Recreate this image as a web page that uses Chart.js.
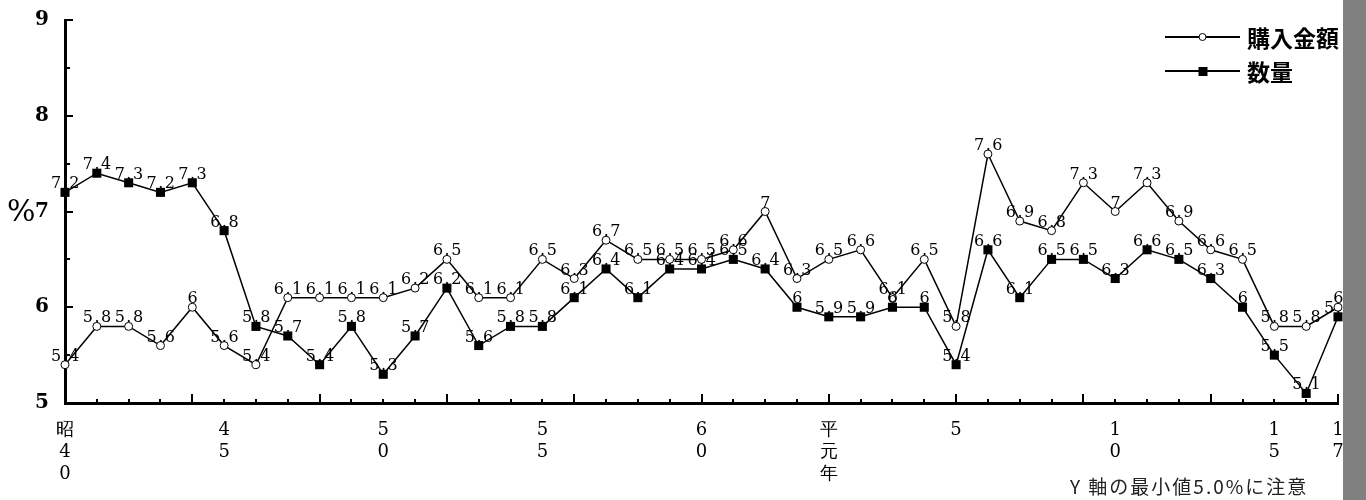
<!DOCTYPE html>
<html lang="ja">
<head>
<meta charset="utf-8">
<script src="https://cdn.jsdelivr.net/npm/chart.js@4.4.0/dist/chart.umd.min.js"></script>
<style>
  body { margin: 0; background: #fff; }
  #wrap { position: relative; width: 1366px; height: 500px; overflow: hidden; }
  #side { position: absolute; left: 1343px; top: 0; width: 23px; height: 500px; background: #808080; }
  #note { position: absolute; left: 1070px; top: 472px; font: 19px "Noto Sans CJK JP", sans-serif; letter-spacing: 2px; color: #222; white-space: nowrap; }
</style>
</head>
<body>
<div id="wrap">
  <canvas id="chart" width="1366" height="500"></canvas>
  <div id="side"></div>
  <div id="note">Y 軸の最小値5.0%に注意</div>
</div>
<script>
// 年次（昭和40年〜平成17年）
const categories = [
  '昭40', '昭41', '昭42', '昭43', '昭44', '昭45', '昭46', '昭47', '昭48', '昭49',
  '昭50', '昭51', '昭52', '昭53', '昭54', '昭55', '昭56', '昭57', '昭58', '昭59',
  '昭60', '昭61', '昭62', '昭63', '平元', '平2', '平3', '平4', '平5', '平6',
  '平7', '平8', '平9', '平10', '平11', '平12', '平13', '平14', '平15', '平16', '平17'
];

// 軸に表示する目盛ラベル（縦書き）
const tickLabels = {
  '昭40': ['昭', '4', '0'],
  '昭45': ['4', '5'],
  '昭50': ['5', '0'],
  '昭55': ['5', '5'],
  '昭60': ['6', '0'],
  '平元': ['平', '元', '年'],
  '平5': ['5'],
  '平10': ['1', '0'],
  '平15': ['1', '5'],
  '平17': ['1', '7']
};

const kingaku = [
  5.4, 5.8, 5.8, 5.6, 6.0, 5.6, 5.4, 6.1, 6.1, 6.1,
  6.1, 6.2, 6.5, 6.1, 6.1, 6.5, 6.3, 6.7, 6.5, 6.5,
  6.5, 6.6, 7.0, 6.3, 6.5, 6.6, 6.1, 6.5, 5.8, 7.6,
  6.9, 6.8, 7.3, 7.0, 7.3, 6.9, 6.6, 6.5, 5.8, 5.8, 6.0
];

const suryo = [
  7.2, 7.4, 7.3, 7.2, 7.3, 6.8, 5.8, 5.7, 5.4, 5.8,
  5.3, 5.7, 6.2, 5.6, 5.8, 5.8, 6.1, 6.4, 6.1, 6.4,
  6.4, 6.5, 6.4, 6.0, 5.9, 5.9, 6.0, 6.0, 5.4, 6.6,
  6.1, 6.5, 6.5, 6.3, 6.6, 6.5, 6.3, 6.0, 5.5, 5.1, 5.9
];

const seriesNames = ['購入金額', '数量'];
const yMin = 5;
const yMax = 9;

function fmt(v) {
  return Number.isInteger(v) ? String(v) : v.toFixed(1);
}

// 目盛・データラベル・凡例を描く
const decorPlugin = {
  id: 'decor',
  afterDatasetsDraw(chart) {
    const ctx = chart.ctx;
    const xs = chart.scales.x;
    const ys = chart.scales.y;
    const area = chart.chartArea;
    ctx.save();
    ctx.strokeStyle = '#000';
    ctx.lineWidth = 2;

    // 横軸の目盛（内向き）
    categories.forEach((c, i) => {
      const px = Math.round(xs.getPixelForValue(i));
      const len = i % 4 === 0 ? 9 : 4;
      ctx.beginPath();
      ctx.moveTo(px, area.bottom);
      ctx.lineTo(px, area.bottom - len);
      ctx.stroke();
    });

    // 縦軸の目盛（内向き）
    for (let v = yMin; v <= yMax; v += 0.5) {
      const py = Math.round(ys.getPixelForValue(v));
      const len = Number.isInteger(v) ? 8 : 5;
      ctx.beginPath();
      ctx.moveTo(area.left, py);
      ctx.lineTo(area.left + len, py);
      ctx.stroke();
    }

    // データラベル
    ctx.fillStyle = '#000';
    ctx.font = '16px "DejaVu Serif", serif';
    ctx.textAlign = 'center';
    ctx.textBaseline = 'alphabetic';
    ctx.letterSpacing = '1.5px';
    chart.data.datasets.forEach((ds, di) => {
      const meta = chart.getDatasetMeta(di);
      meta.data.forEach((pt, i) => {
        ctx.fillText(fmt(ds.data[i]), pt.x + 1, pt.y - 4);
      });
    });
    ctx.letterSpacing = '0px';

    // ％
    ctx.font = '30px "DejaVu Serif", serif';
    ctx.textAlign = 'left';
    ctx.textBaseline = 'middle';
    ctx.fillText('%', 7, ys.getPixelForValue(7) + 2);

    // 凡例
    const lx0 = 1165, lx1 = 1240;
    chart.data.datasets.forEach((ds, di) => {
      const ly = 37 + di * 34;
      ctx.lineWidth = 2;
      ctx.strokeStyle = '#000';
      ctx.beginPath();
      ctx.moveTo(lx0, ly);
      ctx.lineTo(lx1, ly);
      ctx.stroke();
      const mx = (lx0 + lx1) / 2;
      if (di === 0) {
        ctx.fillStyle = '#fff';
        ctx.lineWidth = 1;
        ctx.beginPath();
        ctx.arc(mx, ly, 3.5, 0, Math.PI * 2);
        ctx.fill();
        ctx.stroke();
      } else {
        ctx.fillStyle = '#000';
        ctx.fillRect(mx - 4, ly - 4, 9, 9);
      }
      ctx.fillStyle = '#000';
      ctx.font = 'bold 23px "Noto Sans CJK JP", sans-serif';
      ctx.textBaseline = 'middle';
      ctx.fillText(ds.label, 1247, ly + 1);
    });
    ctx.restore();
  }
};

new Chart(document.getElementById('chart').getContext('2d'), {
  type: 'line',
  data: {
    labels: categories,
    datasets: [{
      label: seriesNames[0],
      data: kingaku,
      borderColor: '#000',
      borderWidth: 1.5,
      pointStyle: 'circle',
      pointRadius: 4,
      pointBackgroundColor: '#fff',
      pointBorderColor: '#000',
      pointBorderWidth: 1,
      tension: 0,
      clip: false
    }, {
      label: seriesNames[1],
      data: suryo,
      borderColor: '#000',
      borderWidth: 1.5,
      pointStyle: 'rect',
      pointRadius: 6.4,
      pointBackgroundColor: '#000',
      pointBorderColor: '#000',
      pointBorderWidth: 0,
      tension: 0,
      clip: false
    }]
  },
  options: {
    responsive: false,
    animation: false,
    layout: { padding: { top: 7, right: 28, left: 0, bottom: 0 } },
    plugins: {
      legend: { display: false },
      tooltip: { enabled: false }
    },
    scales: {
      x: {
        type: 'category',
        offset: false,
        grid: { display: false },
        border: { display: true, color: '#000', width: 3 },
        afterFit(scale) { scale.height = 97; },
        ticks: {
          autoSkip: false,
          maxRotation: 0,
          minRotation: 0,
          padding: 8,
          color: '#000',
          font: { family: '"DejaVu Serif", serif', size: 18, lineHeight: 1.22 },
          callback: (val, i) => tickLabels[categories[i]] || ''
        }
      },
      y: {
        min: yMin,
        max: yMax,
        grid: { display: false },
        border: { display: true, color: '#000', width: 3 },
        afterFit(scale) { scale.width = 65; },
        ticks: {
          stepSize: 1,
          padding: 8,
          color: '#000',
          font: { family: '"DejaVu Serif", serif', size: 20, weight: 'bold' }
        }
      }
    }
  },
  plugins: [decorPlugin]
});
</script>
</body>
</html>
